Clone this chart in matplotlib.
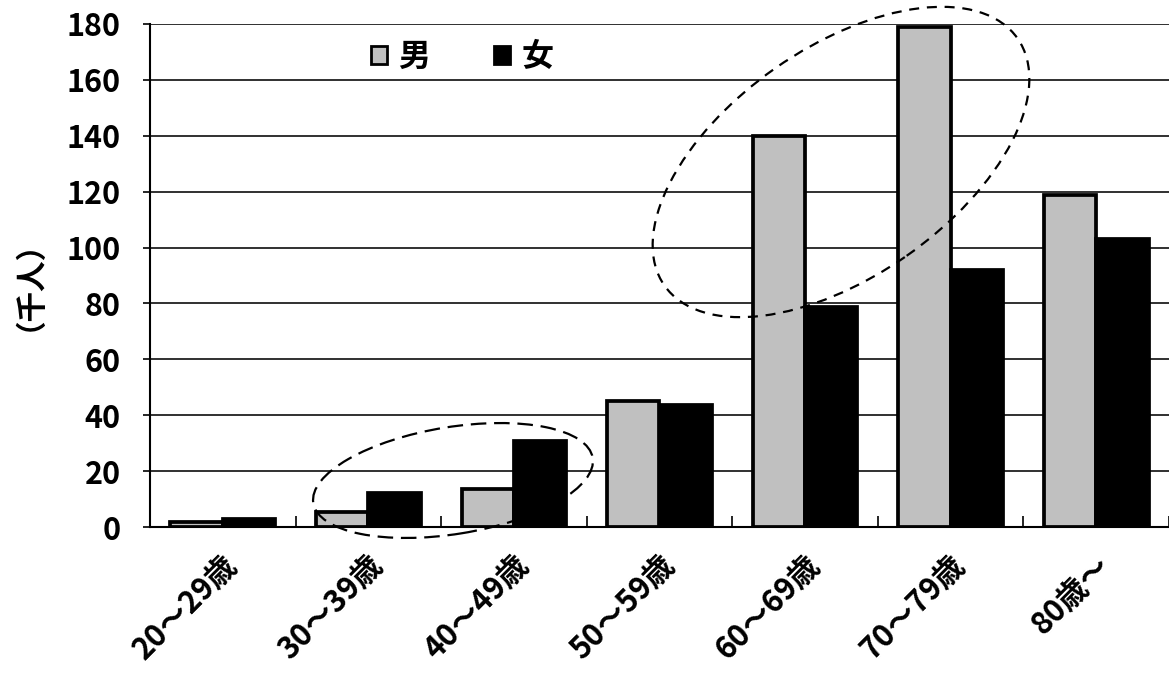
import matplotlib
matplotlib.use("Agg")
import matplotlib.pyplot as plt
import numpy as np
from matplotlib.patches import Ellipse, Patch

plt.rcParams['font.family'] = ['Noto Sans CJK JP', 'DejaVu Sans']
plt.rcParams['font.weight'] = 'bold'

categories = ["20～29歳", "30～39歳", "40～49歳", "50～59歳", "60～69歳", "70～79歳", "80歳～"]
male = [1.8, 5.5, 13.7, 45.2, 140.0, 179.0, 118.8]
female = [3.0, 12.0, 30.6, 43.5, 78.6, 91.8, 103.0]
series_names = ["男", "女"]
yticks = [0, 20, 40, 60, 80, 100, 120, 140, 160, 180]
ylabel = "（千人）"

W, H = 1169, 675
fig = plt.figure(figsize=(W / 100, H / 100), dpi=100)
left = 150 / W
bottom = 1 - 527 / H
top = 1 - 24 / H
ax = fig.add_axes([left, bottom, 1 - left, top - bottom])

x = np.arange(len(categories))
bw = 0.36
ax.bar(x - bw / 2, male, width=bw, color="#C0C0C0", edgecolor="black", linewidth=2.7, zorder=3)
ax.bar(x + bw / 2, female, width=bw, color="black", edgecolor="black", linewidth=2.7, zorder=3)

ax.set_ylim(0, 180)
ax.set_xlim(-0.5, -0.5 + 1019 / 146)
ax.set_yticks(yticks)
ax.set_yticklabels([str(v) for v in yticks], fontsize=22, fontweight='bold')
ax.tick_params(axis='y', direction='out', length=5, width=1.2, pad=16)
ax.yaxis.grid(True, color="#303030", linewidth=1.4, zorder=0)
ax.set_axisbelow(True)

ax.set_xticks(x)
ax.set_xticklabels([])
ax.tick_params(axis='x', which='major', length=0)
ax.set_xticks(np.arange(len(categories) + 1) - 0.5, minor=True)
ax.tick_params(axis='x', which='minor', direction='in', length=8, width=1.2)

for xi, lab in zip(x, categories):
    ax.annotate(lab, xy=(xi, 0), xycoords=('data', 'axes fraction'),
                xytext=(-1, -16), textcoords='offset points',
                rotation=45, ha='right', va='top', rotation_mode='anchor',
                fontsize=22, fontweight='bold')

for s in ['top', 'right']:
    ax.spines[s].set_visible(False)
ax.spines['left'].set_linewidth(1.5)
ax.spines['bottom'].set_linewidth(1.5)

fig.text(14 / W, 1 - 270 / H, ylabel, rotation=90, ha='center', va='center',
         fontsize=22, fontweight='bold')

handles = [Patch(facecolor="#C0C0C0", edgecolor="black", linewidth=2),
           Patch(facecolor="black", edgecolor="black", linewidth=2)]
leg = ax.legend(handles, series_names, loc='center left',
                bbox_to_anchor=(371 / W, 1 - 57 / H), bbox_transform=fig.transFigure,
                ncol=2, frameon=False, fontsize=23, handlelength=0.5, handleheight=0.5,
                handletextpad=0.35, columnspacing=2.0, borderpad=0, borderaxespad=0)
for t in leg.get_texts():
    t.set_fontweight('bold')

# dashed ellipses (figure-pixel geometry)
e1 = Ellipse((453 / 100, (H - 480.5) / 100), 2.83, 1.07, angle=9.2,
             transform=fig.dpi_scale_trans, fill=False, edgecolor='black',
             linewidth=1.6, linestyle=(0, (7, 3.5)), zorder=5)
e2 = Ellipse((841 / 100, (H - 162) / 100), 4.31, 2.29, angle=35,
             transform=fig.dpi_scale_trans, fill=False, edgecolor='black',
             linewidth=1.6, linestyle=(0, (4.5, 3.5)), zorder=5)
fig.add_artist(e1)
fig.add_artist(e2)

fig.savefig("out.png", dpi=100)
